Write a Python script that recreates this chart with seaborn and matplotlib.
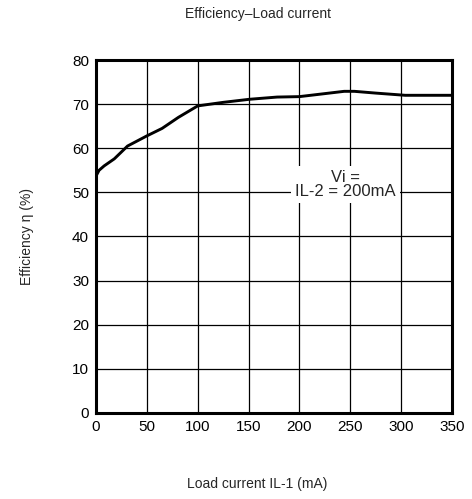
import matplotlib
matplotlib.use("Agg")
import matplotlib.pyplot as plt
import pandas as pd
import seaborn as sns

# Kurvenpunkte
load_current_ma = [0, 3, 8, 18, 31, 50, 65, 81, 100, 125, 151, 178, 200, 222, 244, 254, 275, 304, 330, 350]
efficiency_pct = [53.7, 55.0, 56.0, 57.6, 60.5, 62.8, 64.5, 67.0, 69.6, 70.4, 71.1, 71.6, 71.7, 72.3, 72.9, 72.9, 72.5, 72.0, 72.0, 72.0]

x_ticks = [0, 50, 100, 150, 200, 250, 300, 350]
y_ticks = [0, 10, 20, 30, 40, 50, 60, 70, 80]

sns.set_theme(style="white")
plt.rcParams["font.family"] = ["Liberation Sans", "DejaVu Sans"]

df = pd.DataFrame({"load": load_current_ma, "eta": efficiency_pct})

fig = plt.figure(figsize=(4.72, 4.99), dpi=100)
ax = fig.add_axes([96 / 472, 1 - 413 / 499, (452 - 96) / 472, (413 - 60) / 499])

sns.lineplot(data=df, x="load", y="eta", color="black", linewidth=2.1, ax=ax, zorder=5)

ax.set_xlim(0, 350)
ax.set_ylim(0, 80)
ax.set_xticks(x_ticks)
ax.set_yticks(y_ticks)
ax.grid(True, color="black", linewidth=0.9)
ax.tick_params(labelsize=11, length=0, pad=5, colors="black")
for s in ax.spines.values():
    s.set_linewidth(2.2)
    s.set_color("black")
ax.set_xlabel("")
ax.set_ylabel("")

ax.text(245, 51.8, "Vi =\nIL-2 = 200mA", ha="center", va="center", fontsize=12,
        linespacing=0.95, zorder=6,
        bbox=dict(facecolor="white", edgecolor="none", pad=3))

fig.text(258 / 472, 1 - 14 / 499, "Efficiency\u2013Load current", ha="center", va="center", fontsize=10)
fig.text(257 / 472, 1 - 484 / 499, "Load current IL-1 (mA)", ha="center", va="center", fontsize=10)
fig.text(27 / 472, 1 - 237 / 499, "Efficiency \u03b7 (%)", ha="center", va="center", rotation=90, fontsize=10)

fig.savefig("out.png", dpi=100)
